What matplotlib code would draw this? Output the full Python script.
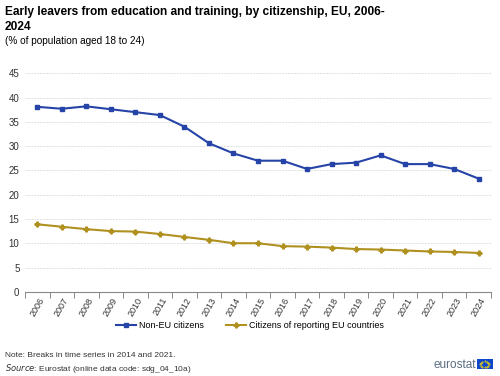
import numpy as np
import matplotlib
matplotlib.use("Agg")
import matplotlib.pyplot as plt
from matplotlib.patches import Rectangle

plt.rcParams['font.family'] = ['Liberation Sans', 'DejaVu Sans']

# Data
years = [str(y) for y in range(2006, 2025)]
non_eu = [38.1, 37.7, 38.2, 37.6, 37.0, 36.4, 34.0, 30.6, 28.5, 27.0,
          27.0, 25.3, 26.3, 26.6, 28.1, 26.3, 26.3, 25.3, 23.3]
eu_citizens = [13.9, 13.4, 12.9, 12.5, 12.4, 11.9, 11.3, 10.7, 10.0, 10.0,
               9.4, 9.3, 9.1, 8.8, 8.7, 8.5, 8.3, 8.2, 8.0]
series_names = ['Non-EU citizens', 'Citizens of reporting EU countries']
y_ticks = [0, 5, 10, 15, 20, 25, 30, 35, 40, 45]

blue = '#2644A7'
gold = '#B09120'

fig = plt.figure(figsize=(5.0, 3.76), dpi=100)
ax = fig.add_axes([0.05, 0.224, 0.932, 0.581])

x = np.arange(len(years))
ax.plot(x, non_eu, color=blue, marker='s', markersize=3.5, linewidth=1.5,
        label=series_names[0])
ax.plot(x, eu_citizens, color=gold, marker='P', markersize=3.5, linewidth=1.5,
        label=series_names[1])

ax.set_xlim(-0.5, len(years) - 0.5)
ax.set_ylim(0, 45)
ax.set_yticks(y_ticks)
ax.tick_params(axis='y', length=0, labelsize=7, colors='#333333', pad=4)
ax.yaxis.grid(True, color='#e0e0e0', linestyle=(0, (2, 1)), linewidth=0.7)
ax.set_axisbelow(True)

# category labels in the middle, ticks on the boundaries
ax.set_xticks(x)
ax.set_xticklabels(years, rotation=60, fontsize=6.5, color='#333333')
ax.tick_params(axis='x', which='major', length=0, pad=3)
ax.set_xticks(np.arange(-0.5, len(years), 1), minor=True)
ax.tick_params(axis='x', which='minor', length=4, color='#888888', width=0.7)

for side in ['top', 'right', 'left']:
    ax.spines[side].set_visible(False)
ax.spines['bottom'].set_color('#888888')
ax.spines['bottom'].set_linewidth(0.8)

fig.legend(loc='center', bbox_to_anchor=(0.5, 0.135), ncol=2, frameon=False,
           fontsize=6.5, handlelength=2.2, columnspacing=2.5, handletextpad=0.3)

fig.text(0.01, 0.985, 'Early leavers from education and training, by citizenship, EU, 2006-\n2024',
         fontsize=8.6, fontweight='bold', va='top', linespacing=1.35)
fig.text(0.01, 0.905, '(% of population aged 18 to 24)', fontsize=7.2, va='top')

fig.text(0.01, 0.055, 'Note: Breaks in time series in 2014 and 2021.', fontsize=6,
         color='#333333', va='center')
fig.text(0.01, 0.02, '$\\it{Source}$: Eurostat (online data code: sdg_04_10a)',
         fontsize=6, color='#333333', va='center')

# eurostat logo
fig.text(0.951, 0.03, 'eurostat', fontsize=8.5, color='#5a6e82', ha='right', va='center')
flag = fig.add_axes([0.953, 0.018, 0.032, 0.026])
flag.add_patch(Rectangle((0, 0), 1, 1, color='#0e47cb'))
ang = np.linspace(0, 2 * np.pi, 12, endpoint=False)
flag.scatter(0.5 + 0.28 * np.cos(ang), 0.5 + 0.3 * np.sin(ang), s=0.2, color='#ffdd00')
flag.set_xlim(0, 1)
flag.set_ylim(0, 1)
flag.axis('off')

fig.savefig('out.png', dpi=100)
